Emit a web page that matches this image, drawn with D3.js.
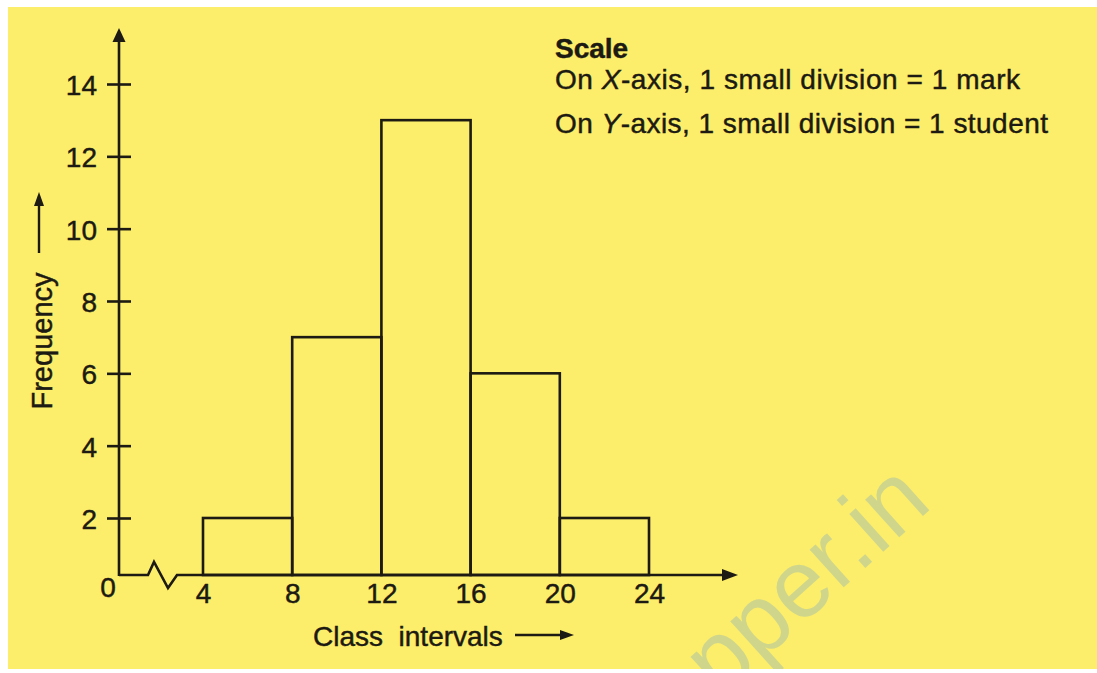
<!DOCTYPE html>
<html>
<head>
<meta charset="utf-8">
<script src="https://cdn.jsdelivr.net/npm/d3@7"></script>
<style>
  body { margin: 0; background: #ffffff; }
  text { font-family: "Liberation Sans", Arial, Helvetica, sans-serif; fill: #1c1a12; stroke: #1c1a12; stroke-width: 0.45px; }
</style>
</head>
<body>
<script>
// Histogram: marks of students (class intervals) vs frequency

// data
var lowerLimits = [4, 8, 12, 16, 20];
var upperLimits = [8, 12, 16, 20, 24];
var frequencies = [2, 7, 13, 6, 2];
var xTickValues = [4, 8, 12, 16, 20, 24];
var yTickValues = [2, 4, 6, 8, 10, 12, 14];
var scaleNotes = [
  { head: 'On ', axis: 'X', rest: '-axis, 1 small division = 1 mark' },
  { head: 'On ', axis: 'Y', rest: '-axis, 1 small division = 1 student' }
];

var svgWidth = 1097;
var svgHeight = 673;
var ink = '#1c1a12';

var svg = d3.select('body').append('svg')
  .attr('width', svgWidth)
  .attr('height', svgHeight);

// paper background
svg.append('rect')
  .attr('x', 8)
  .attr('y', 7)
  .attr('width', svgWidth - 8)
  .attr('height', 662)
  .attr('fill', '#fcee6a');

svg.append('clipPath').attr('id', 'paper')
  .append('rect')
  .attr('x', 8).attr('y', 7)
  .attr('width', svgWidth - 8).attr('height', 662);

// watermark
svg.append('g')
  .attr('clip-path', 'url(#paper)')
  .append('text')
  .attr('transform', 'translate(934, 506) rotate(-42)')
  .attr('text-anchor', 'end')
  .attr('font-size', 96)
  .style('fill', '#cfd68c')
  .style('stroke', 'none')
  .text('pper.in');

// scales (break between 0 and 4 on x, bottom stretch on y as drawn)
var xScale = d3.scaleLinear()
  .domain([0, 4, 24])
  .range([119, 203, 649]);

var yScale = d3.scaleLinear()
  .domain([0, 2, 14])
  .range([575, 518, 84]);

var x0 = xScale(0);
var y0 = yScale(0);

// bars
svg.append('g')
  .selectAll('rect')
  .data(frequencies)
  .enter()
  .append('rect')
  .attr('x', function(d, i) { return xScale(lowerLimits[i]); })
  .attr('y', function(d) { return yScale(d); })
  .attr('width', function(d, i) { return xScale(upperLimits[i]) - xScale(lowerLimits[i]); })
  .attr('height', function(d) { return y0 - yScale(d); })
  .attr('fill', 'none')
  .attr('stroke', ink)
  .attr('stroke-width', 2.6);

// y axis
var leftAxis = d3.axisLeft(yScale)
  .tickValues(yTickValues)
  .tickSize(12)
  .tickPadding(10);

var yAxisG = svg.append('g')
  .attr('transform', 'translate(' + x0 + ',0)')
  .call(leftAxis);

yAxisG.select('.domain').remove();
yAxisG.selectAll('.tick line')
  .attr('x1', 12)
  .attr('x2', -12)
  .attr('stroke', ink)
  .attr('stroke-width', 2.6);
yAxisG.selectAll('.tick text')
  .attr('x', -22)
  .attr('dy', '0.38em')
  .attr('font-size', 28)
  .attr('font-family', null)
  .attr('fill', null);

svg.append('line')
  .attr('x1', x0).attr('y1', y0 + 1)
  .attr('x2', x0).attr('y2', 40)
  .attr('stroke', ink)
  .attr('stroke-width', 2.6);

svg.append('path')
  .attr('d', 'M' + x0 + ',28 L' + (x0 - 6.5) + ',42 L' + (x0 + 6.5) + ',42 Z')
  .attr('fill', ink);

// x axis with zigzag break
var xEnd = 738;
var axisLine = d3.line();
svg.append('path')
  .attr('d', axisLine([
    [x0, y0], [x0 + 29, y0], [x0 + 35, y0 - 13], [x0 + 49, y0 + 13],
    [x0 + 58, y0], [xEnd - 12, y0]
  ]))
  .attr('fill', 'none')
  .attr('stroke', ink)
  .attr('stroke-width', 2.6)
  .attr('stroke-linejoin', 'miter');

svg.append('path')
  .attr('d', 'M' + xEnd + ',' + y0 + ' L' + (xEnd - 16) + ',' + (y0 - 6) + ' L' + (xEnd - 16) + ',' + (y0 + 6) + ' Z')
  .attr('fill', ink);

var bottomAxis = d3.axisBottom(xScale)
  .tickValues(xTickValues)
  .tickSize(0)
  .tickPadding(8);

var xAxisG = svg.append('g')
  .attr('transform', 'translate(0,' + y0 + ')')
  .call(bottomAxis);

xAxisG.select('.domain').remove();
xAxisG.selectAll('.tick text')
  .attr('y', 28)
  .attr('dy', 0)
  .attr('font-size', 28)
  .attr('font-family', null)
  .attr('fill', null);

// origin label
svg.append('text')
  .attr('x', 108)
  .attr('y', 597)
  .attr('text-anchor', 'middle')
  .attr('font-size', 28)
  .text('0');

// axis titles
svg.append('text')
  .attr('x', 313)
  .attr('y', 646)
  .attr('font-size', 28)
  .style('white-space', 'pre')
  .text('Class  intervals');

svg.append('line')
  .attr('x1', 515).attr('y1', 635)
  .attr('x2', 562).attr('y2', 635)
  .attr('stroke', ink)
  .attr('stroke-width', 2.4);
svg.append('path')
  .attr('d', 'M574,635 L560,630 L560,640 Z')
  .attr('fill', ink);

svg.append('text')
  .attr('transform', 'translate(52, 341) rotate(-90)')
  .attr('text-anchor', 'middle')
  .attr('font-size', 29)
  .text('Frequency');

svg.append('line')
  .attr('x1', 39).attr('y1', 253)
  .attr('x2', 39).attr('y2', 204)
  .attr('stroke', ink)
  .attr('stroke-width', 2.4);
svg.append('path')
  .attr('d', 'M39,192 L34,206 L44,206 Z')
  .attr('fill', ink);

// scale note
svg.append('text')
  .attr('x', 555)
  .attr('y', 58)
  .attr('font-size', 28)
  .attr('font-weight', 'bold')
  .text('Scale');

var noteWidths = [465, 493];
var noteBaselines = [89, 133];

scaleNotes.forEach(function(note, i) {
  var t = svg.append('text')
    .attr('x', 555)
    .attr('y', noteBaselines[i])
    .attr('font-size', 28)
    .attr('textLength', noteWidths[i])
    .attr('lengthAdjust', 'spacing')
    .style('white-space', 'pre');
  t.append('tspan').text(note.head);
  t.append('tspan').attr('font-style', 'italic').text(note.axis);
  t.append('tspan').text(note.rest);
});
</script>
</body>
</html>
